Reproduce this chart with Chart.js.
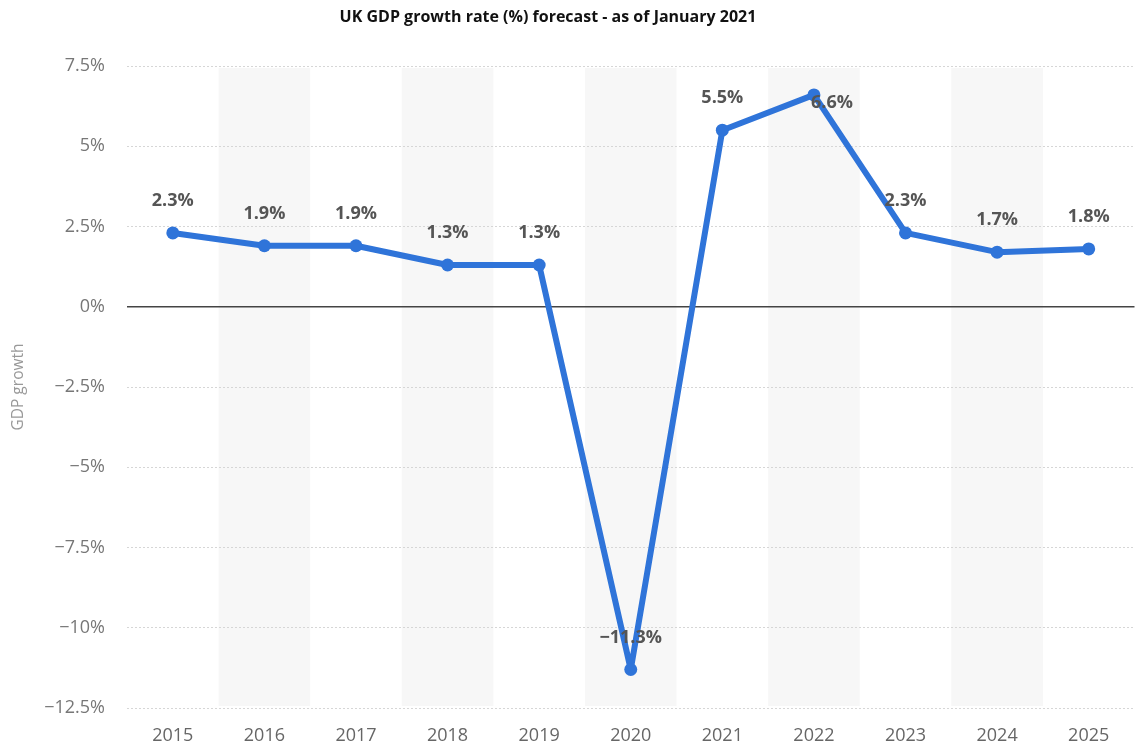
<!DOCTYPE html>
<html>
<head>
<meta charset="utf-8">
<title>UK GDP growth rate forecast</title>
<script src="https://cdn.jsdelivr.net/npm/chart.js@4/dist/chart.umd.min.js"></script>
<style>
  html, body { margin: 0; padding: 0; background: #fff; }
  #wrap { width: 1141px; height: 747px; position: relative; }
</style>
</head>
<body>
<div id="wrap"><canvas id="gdpChart"></canvas></div>
<script>
// Years and GDP growth (%) - forecast as of January 2021
const years = ['2015', '2016', '2017', '2018', '2019', '2020', '2021', '2022', '2023', '2024', '2025'];
const growth = [2.3, 1.9, 1.9, 1.3, 1.3, -11.3, 5.5, 6.6, 2.3, 1.7, 1.8];
const yTicks = [7.5, 5, 2.5, 0, -2.5, -5, -7.5, -10, -12.5];

const titleText = 'UK GDP growth rate (%) forecast - as of January 2021';
const lineColor = '#2f74d9';

function fmtPct(v) {
    const s = String(Math.abs(v)) + '%';
    return v < 0 ? '\u2212' + s : s;
}

// Light grey band behind every other year
const stripes = {
    id: 'stripes',
    beforeDraw(chart) {
        const { ctx, chartArea, scales } = chart;
        const x = scales.x;
        const w = x.getPixelForValue(1) - x.getPixelForValue(0);
        ctx.save();
        ctx.fillStyle = '#f7f7f7';
        years.forEach((y, i) => {
            if (i % 2 === 1) {
                const cx = x.getPixelForValue(i);
                ctx.fillRect(cx - w / 2, chartArea.top + 2, w, chartArea.bottom - chartArea.top - 4);
            }
        });
        ctx.restore();
    }
};

// Chart heading
const heading = {
    id: 'heading',
    afterDraw(chart) {
        const ctx = chart.ctx;
        ctx.save();
        ctx.font = 'bold 16px "Open Sans", sans-serif';
        ctx.fillStyle = '#111';
        ctx.textAlign = 'center';
        ctx.textBaseline = 'middle';
        ctx.fillText(titleText, 548, 17);
        ctx.restore();
    }
};

// Value labels above each point
const valueLabels = {
    id: 'valueLabels',
    afterDatasetsDraw(chart) {
        const ctx = chart.ctx;
        const meta = chart.getDatasetMeta(0);
        ctx.save();
        ctx.font = 'bold 18px "Open Sans", sans-serif';
        ctx.fillStyle = '#555';
        ctx.textAlign = 'center';
        ctx.textBaseline = 'middle';
        meta.data.forEach((pt, i) => {
            let x = pt.x;
            let y = pt.y - 32;
            // no room above the highest point, nudge the label down and right
            if (y < chart.chartArea.top + 20) {
                x = pt.x + 18;
                y = pt.y + 8;
            }
            ctx.fillText(fmtPct(growth[i]), x, y);
        });
        ctx.restore();
    }
};

new Chart(document.getElementById('gdpChart'), {
    type: 'line',
    data: {
        labels: years,
        datasets: [{
            data: growth,
            borderColor: lineColor,
            backgroundColor: lineColor,
            borderWidth: 6,
            borderJoinStyle: 'round',
            borderCapStyle: 'round',
            pointRadius: 6.5,
            pointBackgroundColor: lineColor,
            pointBorderWidth: 0,
            tension: 0
        }]
    },
    options: {
        responsive: true,
        maintainAspectRatio: false,
        animation: false,
        layout: { padding: { top: 66, right: 4, left: 0, bottom: 0 } },
        plugins: {
            legend: { display: false },
            title: { display: false },
            tooltip: { enabled: false }
        },
        scales: {
            x: {
                offset: true,
                grid: { display: false, drawTicks: false },
                border: { display: false },
                ticks: {
                    padding: 17,
                    color: '#666',
                    font: { family: '"Open Sans", sans-serif', size: 18 }
                },
                afterFit(scale) { scale.height = 39; }
            },
            y: {
                min: -12.5,
                max: 7.5,
                afterBuildTicks(scale) {
                    scale.ticks = yTicks.map(v => ({ value: v }));
                },
                grid: {
                    drawTicks: false,
                    color: ctx => ctx.tick && ctx.tick.value === 0 ? '#444' : '#d6d6d6',
                    lineWidth: ctx => ctx.tick && ctx.tick.value === 0 ? 1.5 : 1
                },
                border: {
                    display: false,
                    dash: ctx => ctx.tick && ctx.tick.value === 0 ? [] : [2, 2]
                },
                ticks: {
                    padding: 22,
                    color: '#777',
                    font: { family: '"Open Sans", sans-serif', size: 18 },
                    callback: v => fmtPct(v)
                },
                title: {
                    display: true,
                    text: 'GDP growth',
                    color: '#999',
                    font: { family: '"Open Sans", sans-serif', size: 15.5 },
                    padding: { top: 9, bottom: 0 }
                },
                afterFit(scale) { scale.width = 127; }
            }
        }
    },
    plugins: [stripes, valueLabels, heading]
});
</script>
</body>
</html>
